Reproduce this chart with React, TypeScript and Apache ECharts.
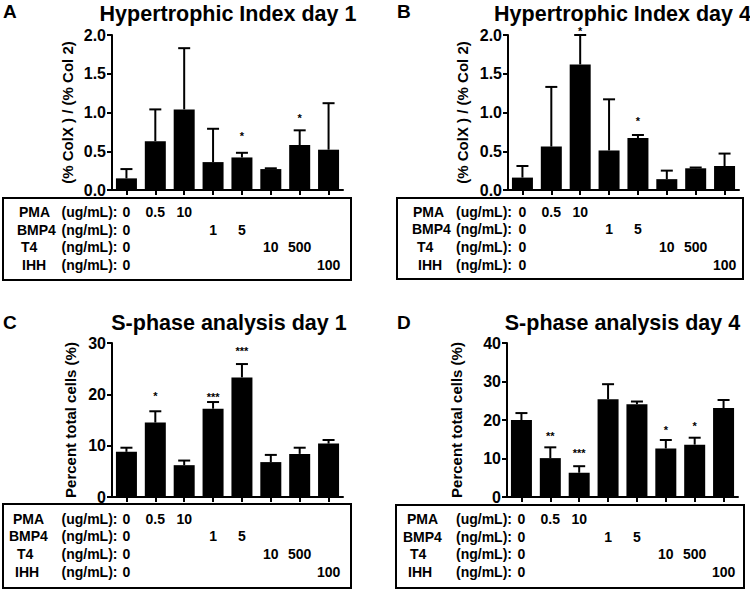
import React, { useEffect, useRef } from 'react';
import * as echarts from 'echarts';

// ---------- data ----------
const categories = ['Control', 'PMA 0.5', 'PMA 10', 'BMP4 1', 'BMP4 5', 'T4 10', 'T4 500', 'IHH 100'];

const hypDay1Mean = [0.15, 0.63, 1.04, 0.36, 0.42, 0.27, 0.58, 0.52];
const hypDay1Err = [0.12, 0.41, 0.79, 0.43, 0.06, 0.01, 0.19, 0.6];
const hypDay1Stars = ['', '', '', '', '*', '', '*', ''];
const hypDay1StarLevel = [0, 0, 0, 0, 0.73, 0, 0.97, 0];

const hypDay4Mean = [0.16, 0.56, 1.62, 0.51, 0.67, 0.14, 0.28, 0.31];
const hypDay4Err = [0.15, 0.77, 0.38, 0.66, 0.04, 0.11, 0.01, 0.16];
const hypDay4Stars = ['', '', '*', '', '*', '', '', ''];
const hypDay4StarLevel = [0, 0, 2.09, 0, 0.93, 0, 0, 0];

const sDay1Mean = [8.8, 14.5, 6.2, 17.2, 23.3, 6.8, 8.4, 10.4];
const sDay1Err = [0.8, 2.2, 0.9, 1.3, 2.6, 1.4, 1.2, 0.7];
const sDay1Stars = ['', '*', '', '***', '***', '', '', ''];
const sDay1StarLevel = [0, 20.3, 0, 20.1, 29.0, 0, 0, 0];

const sDay4Mean = [20.0, 10.1, 6.3, 25.4, 24.1, 12.6, 13.6, 23.1];
const sDay4Err = [1.8, 2.8, 1.7, 3.9, 0.7, 2.2, 1.8, 2.1];
const sDay4Stars = ['', '**', '***', '', '', '*', '*', ''];
const sDay4StarLevel = [0, 16.7, 12.2, 0, 0, 18.3, 19.1, 0];

const treatments = ['PMA', 'BMP4', 'T4', 'IHH'];
const units = ['(ug/mL):', '(ng/mL):', '(ng/mL):', '(ng/mL):'];
const doses = [
  ['0', '0.5', '10', '', '', '', '', ''],
  ['0', '', '', '1', '5', '', '', ''],
  ['0', '', '', '', '', '10', '500', ''],
  ['0', '', '', '', '', '', '', '100'],
];

const titles = ['Hypertrophic Index day 1', 'Hypertrophic Index day 4', 'S-phase analysis day 1', 'S-phase analysis day 4'];
const letters = ['A', 'B', 'C', 'D'];
const yNames = ['(% ColX ) / (% Col 2)', '(% ColX ) / (% Col 2)', 'Percent total cells (%)', 'Percent total cells (%)'];
const yMax = [2, 2, 30, 40];
const yInterval = [0.5, 0.5, 10, 10];

// ---------- layout ----------
const FONT = '"Liberation Sans", Arial, Helvetica, sans-serif';
const layout = [
  { grid: { left: 112, top: 35, width: 231, height: 155 }, nameGap: 37, title: [228, 14], letter: [3, 11.5],
    box: [3, 198, 348, 82], rows: [212, 229.5, 247.3, 264.5], nameX: [19, 17, 21, 22], unitRight: 117.5 },
  { grid: { left: 508, top: 35, width: 231, height: 155 }, nameGap: 38, title: [622.5, 13.5], letter: [397, 11.5],
    box: [397, 198, 346, 81], rows: [211.7, 229.3, 247.3, 265], nameX: [413, 412, 417, 418], unitRight: 512 },
  { grid: { left: 112, top: 343, width: 231, height: 154 }, nameGap: 34, title: [229, 323], letter: [3, 322.5],
    box: [3, 504, 348, 84], rows: [518.5, 536.3, 554, 572], nameX: [13, 9, 17, 15], unitRight: 117.5 },
  { grid: { left: 507, top: 343, width: 231, height: 154 }, nameGap: 43, title: [622.5, 323], letter: [397, 322.5],
    box: [396, 505, 348, 83], rows: [519.3, 536.7, 554, 571.7], nameX: [407, 403, 410, 408], unitRight: 512 },
];

const means = [hypDay1Mean, hypDay4Mean, sDay1Mean, sDay4Mean];
const errs = [hypDay1Err, hypDay4Err, sDay1Err, sDay4Err];
const stars = [hypDay1Stars, hypDay4Stars, sDay1Stars, sDay4Stars];
const starLevels = [hypDay1StarLevel, hypDay4StarLevel, sDay1StarLevel, sDay4StarLevel];

function buildOption() {
  const grid: any[] = [];
  const xAxis: any[] = [];
  const yAxis: any[] = [];
  const series: any[] = [];
  layout.forEach((L, p) => {
    grid.push({ ...L.grid, containLabel: false });
    xAxis.push({
      type: 'category', gridIndex: p, data: categories, boundaryGap: true,
      axisLine: { show: true, lineStyle: { color: '#000', width: 2 } },
      axisTick: { show: true, alignWithLabel: true, interval: 0, length: 5, lineStyle: { color: '#000', width: 2 } },
      axisLabel: { show: false }, splitLine: { show: false },
    });
    yAxis.push({
      type: 'value', gridIndex: p, min: 0, max: yMax[p], interval: yInterval[p],
      name: yNames[p], nameLocation: 'middle', nameRotate: 90, nameGap: L.nameGap,
      nameTextStyle: { color: '#000', fontFamily: FONT, fontWeight: 'bold', fontSize: 15 },
      axisLine: { show: true, lineStyle: { color: '#000', width: 2 } },
      axisTick: { show: true, length: 5, lineStyle: { color: '#000', width: 2 } },
      axisLabel: {
        color: '#000', fontFamily: FONT, fontWeight: 'bold', fontSize: 16, margin: 6,
        formatter: (v: number) => (yMax[p] <= 2 ? v.toFixed(1) : String(v)),
      },
      splitLine: { show: false },
    });
    series.push({
      type: 'bar', xAxisIndex: p, yAxisIndex: p, data: means[p], barWidth: 21,
      itemStyle: { color: '#000' }, silent: true,
    });
    series.push({
      type: 'custom', xAxisIndex: p, yAxisIndex: p, silent: true,
      data: means[p].map((m, i) => [i, m, errs[p][i]]),
      renderItem: (params: any, api: any) => {
        const x = api.value(0);
        const m = api.value(1);
        const e = api.value(2);
        const b = api.coord([x, m]);
        const t = api.coord([x, m + e]);
        const hw = 6;
        return {
          type: 'group',
          children: [
            { type: 'line', shape: { x1: b[0], y1: b[1], x2: t[0], y2: t[1] }, style: { stroke: '#000', lineWidth: 2 } },
            { type: 'line', shape: { x1: t[0] - hw, y1: t[1], x2: t[0] + hw, y2: t[1] }, style: { stroke: '#000', lineWidth: 2 } },
          ],
        };
      },
      z: 3,
    });
    const starData = stars[p].map((s, i) => (s ? [i, starLevels[p][i]] : null)).filter((d) => d);
    series.push({
      type: 'custom', xAxisIndex: p, yAxisIndex: p, silent: true, clip: false,
      data: starData,
      renderItem: (params: any, api: any) => {
        const i = api.value(0);
        const c = api.coord([i, api.value(1)]);
        return {
          type: 'text', x: c[0], y: c[1] + 3,
          style: { text: stars[p][i], fill: '#000', font: `bold 11px ${FONT}`, align: 'center', verticalAlign: 'middle' },
        };
      },
      z: 4,
    });
  });
  return { animation: false, backgroundColor: '#fff', grid, xAxis, yAxis, series };
}

function buildGraphic(chart: any) {
  const els: any[] = [];
  const txt = (x: number, y: number, text: string, size: number, align: string) => ({
    type: 'text', x, y, silent: true,
    style: { text, fill: '#000', font: `bold ${size}px ${FONT}`, align, verticalAlign: 'middle' },
  });
  layout.forEach((L, p) => {
    els.push(txt(L.title[0], L.title[1], titles[p], 21.5, 'center'));
    els.push(txt(L.letter[0], L.letter[1], letters[p], 19, 'left'));
    els.push({
      type: 'rect', silent: true,
      shape: { x: L.box[0], y: L.box[1], width: L.box[2], height: L.box[3] },
      style: { fill: 'none', stroke: '#000', lineWidth: 2 },
    });
    treatments.forEach((t, r) => {
      const y = L.rows[r];
      els.push(txt(L.nameX[r], y, t, 14, 'left'));
      els.push(txt(L.unitRight, y, units[r], 14, 'right'));
      doses[r].forEach((d, c) => {
        if (!d) return;
        const x = chart.convertToPixel({ xAxisIndex: p }, categories[c]);
        els.push(txt(x, y, d, 14, 'center'));
      });
    });
  });
  return els;
}

export default function App() {
  const ref = useRef<HTMLDivElement>(null);
  useEffect(() => {
    if (!ref.current) return;
    const chart = echarts.init(ref.current, undefined, { renderer: 'svg' });
    chart.setOption(buildOption());
    chart.setOption({ graphic: { elements: buildGraphic(chart) } });
    return () => chart.dispose();
  }, []);
  return (
    <div
      ref={ref}
      style={{ position: 'fixed', left: 0, top: 0, width: 750, height: 591, background: '#fff' }}
    />
  );
}
